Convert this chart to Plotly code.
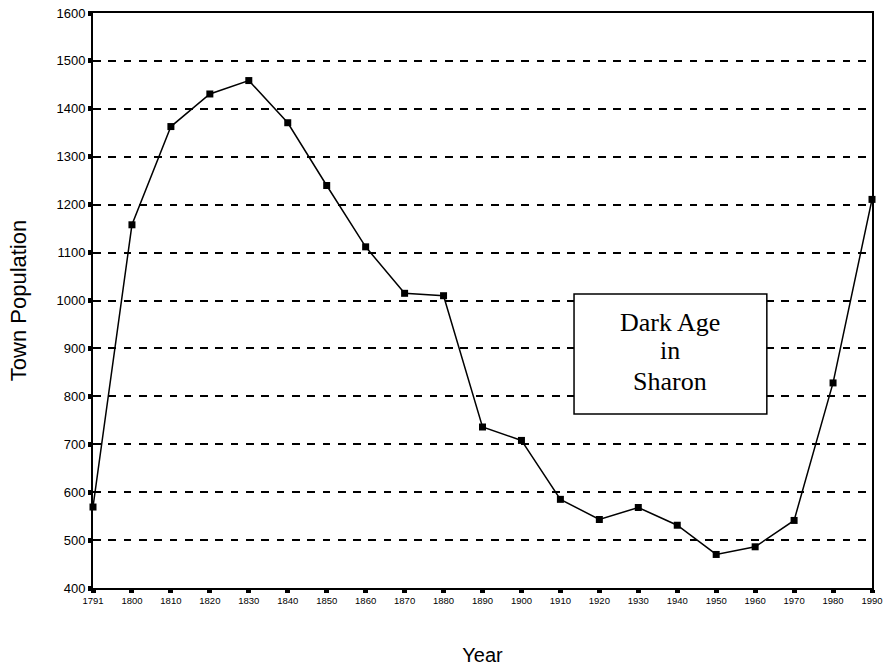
import plotly.graph_objects as go

years = ["1791", "1800", "1810", "1820", "1830", "1840", "1850", "1860", "1870", "1880",
         "1890", "1900", "1910", "1920", "1930", "1940", "1950", "1960", "1970", "1980", "1990"]
population = [569, 1158, 1363, 1431, 1459, 1371, 1240, 1112, 1015, 1010,
              736, 708, 585, 543, 568, 531, 470, 486, 541, 828, 1211]
y_ticks = [400, 500, 600, 700, 800, 900, 1000, 1100, 1200, 1300, 1400, 1500, 1600]
note_lines = ["Dark Age", "in", "Sharon"]

fig = go.Figure()
fig.add_trace(go.Scatter(
    x=years, y=population, mode="lines+markers",
    line=dict(color="black", width=1.5),
    marker=dict(symbol="square", size=7, color="black"),
    showlegend=False, cliponaxis=False,
))

# Text box
fig.add_shape(type="rect", xref="paper", yref="paper",
              x0=0.6175, x1=0.865, y0=0.3026, y1=0.5113,
              line=dict(color="black", width=1.5), fillcolor="white", layer="above")
for txt, yy in zip(note_lines, [0.4626, 0.4139, 0.3583]):
    fig.add_annotation(
        x=0.741, y=yy, xref="paper", yref="paper", xanchor="center", yanchor="middle",
        text=txt, showarrow=False,
        font=dict(family="Liberation Serif", size=26, color="black"),
    )

fig.update_layout(
    width=883, height=670,
    margin=dict(l=93, r=11, t=13, b=82, autoexpand=False),
    paper_bgcolor="white", plot_bgcolor="white",
    font=dict(family="Liberation Sans", color="black"),
    xaxis=dict(
        type="category", range=[0, len(years) - 1], automargin=False,
        showgrid=False, showline=True, linecolor="black", linewidth=2, mirror=True,
        ticks="outside", ticklen=3, tickwidth=5, tickcolor="black",
        tickfont=dict(size=9.5), ticklabeloverflow="allow",
        title=dict(text="Year", font=dict(size=20), standoff=43),
    ),
    yaxis=dict(
        range=[400, 1600], tickvals=y_ticks, automargin=False,
        showgrid=True, gridcolor="black", griddash="7.7px,7.6px", gridwidth=2,
        showline=True, linecolor="black", linewidth=2, mirror=True,
        ticks="outside", ticklen=3, tickwidth=5, tickcolor="black",
        tickfont=dict(size=13), ticklabeloverflow="allow",
        title=dict(text="Town Population", font=dict(size=22), standoff=24),
        zeroline=False,
    ),
)

fig.write_html("out.html", config={"displayModeBar": False},
               post_script="document.body.style.margin='0';document.body.style.padding='0';")
